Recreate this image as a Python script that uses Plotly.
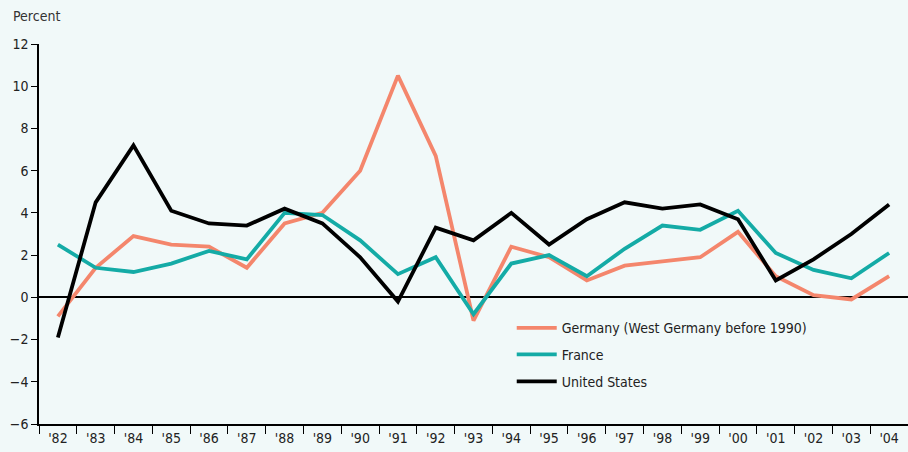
import plotly.graph_objects as go

years = ["'82", "'83", "'84", "'85", "'86", "'87", "'88", "'89", "'90", "'91", "'92", "'93",
         "'94", "'95", "'96", "'97", "'98", "'99", "'00", "'01", "'02", "'03", "'04"]
germany = [-0.9, 1.4, 2.9, 2.5, 2.4, 1.4, 3.5, 4.0, 6.0, 10.5, 6.7, -1.1,
           2.4, 1.9, 0.8, 1.5, 1.7, 1.9, 3.1, 1.0, 0.1, -0.1, 1.0]
france = [2.5, 1.4, 1.2, 1.6, 2.2, 1.8, 4.0, 3.9, 2.7, 1.1, 1.9, -0.8,
          1.6, 2.0, 1.0, 2.3, 3.4, 3.2, 4.1, 2.1, 1.3, 0.9, 2.1]
usa = [-1.9, 4.5, 7.2, 4.1, 3.5, 3.4, 4.2, 3.5, 1.9, -0.2, 3.3, 2.7,
       4.0, 2.5, 3.7, 4.5, 4.2, 4.4, 3.7, 0.8, 1.8, 3.0, 4.4]
y_ticks = [-6, -4, -2, 0, 2, 4, 6, 8, 10, 12]
y_labels = ["\u22126", "\u22124", "\u22122", "0", "2", "4", "6", "8", "10", "12"]

font_family = "DejaVu Sans Condensed, Liberation Sans Narrow, Roboto, Arial"
bg = '#f1f9f9'

fig = go.Figure()
fig.add_trace(go.Scatter(
    x=years, y=germany, mode='lines', name='Germany (West Germany before 1990)',
    line=dict(width=3.8, color='#f4866c'), legend='legend'
))
fig.add_trace(go.Scatter(
    x=years, y=france, mode='lines', name='France',
    line=dict(width=3.8, color='#14aba6'), legend='legend2'
))
fig.add_trace(go.Scatter(
    x=years, y=usa, mode='lines', name='United States',
    line=dict(width=3.8, color='black'), legend='legend3'
))

fig.update_xaxes(
    type='category', tickson='boundaries', ticks='outside', ticklen=8,
    tickcolor='black', showline=True, linecolor='black', linewidth=1.5,
    showgrid=False, zeroline=False, range=[-0.5, 22.5],
    tickfont=dict(size=14, color='#222')
)
fig.update_yaxes(
    range=[-6, 12], tickvals=y_ticks, ticktext=y_labels, ticks='outside',
    ticklen=6, tickcolor='black', showline=True, linecolor='black', linewidth=1.5,
    showgrid=False, zeroline=True, zerolinecolor='black', zerolinewidth=2,
    tickfont=dict(size=14, color='#222')
)

# one legend per series so the row spacing matches the original
leg = dict(x=0.544, xanchor='left', yanchor='middle', bgcolor='rgba(0,0,0,0)',
           font=dict(size=14, color='#222'), itemwidth=40)
fig.update_layout(
    width=908, height=452,
    margin=dict(l=39, r=0, t=44, b=28),
    plot_bgcolor=bg,
    paper_bgcolor=bg,
    showlegend=True,
    font=dict(family=font_family, size=14, color='#222'),
    legend=dict(leg, y=0.252),
    legend2=dict(leg, y=0.182),
    legend3=dict(leg, y=0.111),
    annotations=[dict(text='Percent', x=0, y=1, xref='paper', yref='paper',
                      xanchor='left', yanchor='top', xshift=-28, yshift=38,
                      showarrow=False, font=dict(size=14, color='#333'))]
)

fig.write_html("out.html", config={'displayModeBar': False},
               post_script="document.body.style.margin='0';")
